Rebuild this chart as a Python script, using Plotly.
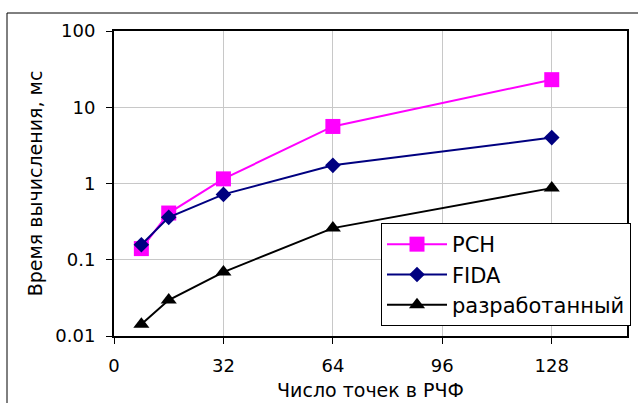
import plotly.graph_objects as go

x_points = [8, 16, 32, 64, 128]
pch = [0.14, 0.41, 1.15, 5.6, 23]
fida = [0.157, 0.36, 0.72, 1.73, 4.0]
razrab = [0.0143, 0.0296, 0.069, 0.26, 0.87]

series_names = ["PCH", "FIDA", "разработанный"]
x_ticks = [0, 32, 64, 96, 128]
y_ticks = [0.01, 0.1, 1, 10, 100]
y_ticktext = ["0.01", "0.1", "1", "10", "100"]

FONT = "DejaVu Sans"

fig = go.Figure()
styles = [
    dict(color="#FF00FF", symbol="square", size=15),
    dict(color="#000080", symbol="diamond", size=12),
    dict(color="#000000", symbol="triangle-up", size=14),
]
for i, (name, ys, st) in enumerate(zip(series_names, [pch, fida, razrab], styles)):
    fig.add_trace(go.Scatter(
        x=x_points, y=ys, name=name, mode="lines+markers",
        line=dict(color=st["color"], width=2),
        marker=dict(color=st["color"], symbol=st["symbol"], size=st["size"],
                    line=dict(width=0)),
        legendgroup=f"g{i}",
    ))

fig.update_layout(
    width=638, height=403,
    margin=dict(l=114, r=11, t=31, b=67, autoexpand=False),
    paper_bgcolor="white", plot_bgcolor="white",
    font=dict(family=FONT, size=18, color="black"),
    showlegend=True,
    legend=dict(
        x=(381 - 114) / 513, y=(336 - 223) / 305, xanchor="left", yanchor="top",
        bgcolor="white", bordercolor="black", borderwidth=1,
        font=dict(family=FONT, size=21, color="black"),
        itemwidth=60, tracegroupgap=13, traceorder="normal",
    ),
    xaxis=dict(
        range=[0, 150], tickvals=x_ticks, ticks="outside", ticklen=6,
        tickcolor="black", tickwidth=1, ticklabelstandoff=6,
        showgrid=True, gridcolor="#c8c8c8", gridwidth=1,
        showline=True, linecolor="black", linewidth=2, mirror=True,
        zeroline=False,
        title=dict(text="Число точек в РЧФ", standoff=9,
                   font=dict(family=FONT, size=19)),
        tickfont=dict(family=FONT, size=18),
    ),
    yaxis=dict(
        type="log", range=[-2, 2], tickvals=y_ticks, ticktext=y_ticktext,
        ticks="outside", ticklen=6, tickcolor="black", tickwidth=1,
        ticklabelstandoff=7,
        showgrid=True, gridcolor="#c8c8c8", gridwidth=1,
        showline=True, linecolor="black", linewidth=2, mirror=True,
        zeroline=False,
        title=dict(text="Время вычисления, мс", standoff=8,
                   font=dict(family=FONT, size=19)),
        tickfont=dict(family=FONT, size=18),
    ),
    shapes=[dict(
        type="rect", xref="paper", yref="paper",
        x0=(7 - 114) / 513, x1=1.1, y0=-0.3, y1=(336 - 13) / 305,
        line=dict(color="black", width=1), fillcolor="rgba(0,0,0,0)", layer="below",
    )],
)

fig.write_html("out.html")
